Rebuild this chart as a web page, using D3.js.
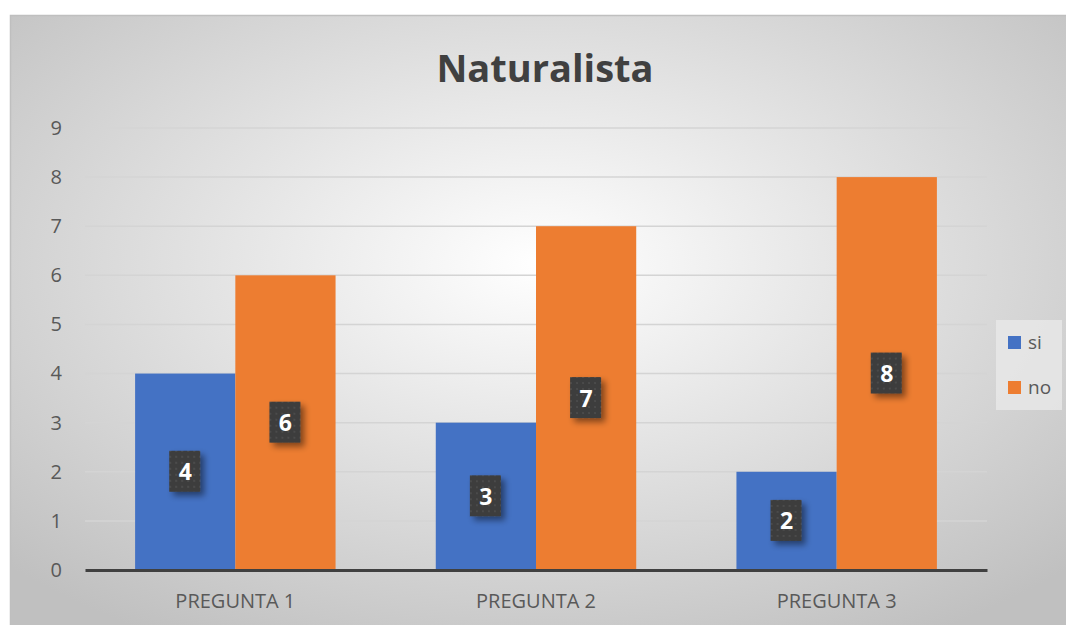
<!DOCTYPE html>
<html>
<head>
<meta charset="utf-8">
<script src="https://cdn.jsdelivr.net/npm/d3@7"></script>
<style>
  body { margin: 0; background: #fff; }
  svg { display: block; }
</style>
</head>
<body>
<svg id="chart" width="1066" height="625"></svg>
<script>
var categories = ["PREGUNTA 1", "PREGUNTA 2", "PREGUNTA 3"];
var seriesNames = ["si", "no"];
var siValues = [4, 3, 2];
var noValues = [6, 7, 8];
var yTicks = [0, 1, 2, 3, 4, 5, 6, 7, 8, 9];
var colors = ["#4472C4", "#ED7D31"];

var svg = d3.select("#chart");
var defs = svg.append("defs");

// background gradient like the office "radial" style
var grad = defs.append("radialGradient").attr("id", "bg")
    .attr("cx", "50%").attr("cy", "40%").attr("r", "70%");
grad.append("stop").attr("offset", "0%").attr("stop-color", "#ffffff");
grad.append("stop").attr("offset", "100%").attr("stop-color", "#c0c0c0");

var pat = defs.append("pattern").attr("id", "dots")
    .attr("width", 6).attr("height", 6).attr("patternUnits", "userSpaceOnUse");
pat.append("rect").attr("width", 6).attr("height", 6).attr("fill", "#3c3c3c");
pat.append("rect").attr("x", 2).attr("y", 2).attr("width", 2).attr("height", 2).attr("fill", "#4c4c4c");

var shadow = defs.append("filter").attr("id", "shadow")
    .attr("x", "-30%").attr("y", "-30%").attr("width", "180%").attr("height", "180%");
shadow.append("feDropShadow").attr("dx", 4).attr("dy", 4).attr("stdDeviation", 3)
    .attr("flood-color", "#000").attr("flood-opacity", 0.45);

svg.append("rect").attr("x", 10.5).attr("y", 15.5).attr("width", 1060).attr("height", 620)
    .attr("fill", "url(#bg)").attr("stroke", "#bfbfbf").attr("stroke-width", 1.5);

var plotLeft = 85, plotRight = 987, plotTop = 128, plotBottom = 570;

var x0 = d3.scaleBand().domain(categories).range([plotLeft, plotRight]).paddingInner(1 / 3).paddingOuter(1 / 6);
var x1 = d3.scaleBand().domain(seriesNames).range([0, x0.bandwidth()]);
var y = d3.scaleLinear().domain([0, 9]).range([plotBottom, plotTop]);

// title
svg.append("text").attr("x", 545).attr("y", 82).attr("text-anchor", "middle")
    .style("font-family", "'Open Sans', sans-serif").style("font-weight", "bold")
    .style("font-size", "38px").style("fill", "#404040").text("Naturalista");

// gridlines
svg.append("g").selectAll("line").data(yTicks.filter(function (d) { return d > 0; }))
    .enter().append("line")
    .attr("x1", plotLeft).attr("x2", plotRight)
    .attr("y1", function (d) { return y(d); }).attr("y2", function (d) { return y(d); })
    .attr("stroke", "#d4d4d4").attr("stroke-width", 1.5);

// y axis labels
var yAxis = d3.axisLeft(y).tickValues(yTicks).tickSize(0).tickPadding(0);
var yg = svg.append("g").attr("transform", "translate(62,0)").call(yAxis);
yg.select(".domain").remove();
yg.selectAll("text").style("font-family", "'Open Sans', sans-serif").style("font-size", "20px")
    .style("fill", "#595959");

var rows = categories.map(function (c, i) {
    return { cat: c, vals: [siValues[i], noValues[i]] };
});

var groups = svg.append("g").selectAll("g").data(rows).enter().append("g")
    .attr("transform", function (d) { return "translate(" + x0(d.cat) + ",0)"; });

groups.selectAll("rect").data(function (d) {
    return d.vals.map(function (v, j) { return { name: seriesNames[j], v: v, j: j }; });
}).enter().append("rect")
    .attr("x", function (d) { return x1(d.name); })
    .attr("y", function (d) { return y(d.v); })
    .attr("width", x1.bandwidth())
    .attr("height", function (d) { return y(0) - y(d.v); })
    .attr("fill", function (d) { return colors[d.j]; });

// x axis
var xAxis = d3.axisBottom(x0).tickSize(0).tickPadding(24);
var xg = svg.append("g").attr("transform", "translate(0," + plotBottom + ")").call(xAxis);
xg.select(".domain").attr("stroke", "#404040").attr("stroke-width", 3);
xg.selectAll("text").style("font-family", "'Open Sans', sans-serif").style("font-size", "20px")
    .style("fill", "#595959");

// data labels
var labels = groups.selectAll("g.lab").data(function (d) {
    return d.vals.map(function (v, j) { return { name: seriesNames[j], v: v }; });
}).enter().append("g").attr("class", "lab")
    .attr("transform", function (d) {
        return "translate(" + (x1(d.name) + x1.bandwidth() / 2) + "," + y(d.v / 2) + ")";
    });
labels.append("rect").attr("x", -16).attr("y", -21).attr("width", 31).attr("height", 41)
    .attr("fill", "url(#dots)").attr("filter", "url(#shadow)");
labels.append("text").attr("y", 8.5).attr("text-anchor", "middle")
    .style("font-family", "'Open Sans', sans-serif").style("font-weight", "bold")
    .style("font-size", "23px").style("fill", "#fff").text(function (d) { return d.v; });

// legend
var legend = svg.append("g");
legend.append("rect").attr("x", 996).attr("y", 320).attr("width", 66).attr("height", 90)
    .attr("fill", "#e8e8e8").attr("opacity", 0.8);
var li = legend.selectAll("g").data(seriesNames).enter().append("g")
    .attr("transform", function (d, i) { return "translate(1008," + (336 + i * 45) + ")"; });
li.append("rect").attr("width", 13).attr("height", 13).attr("fill", function (d, i) { return colors[i]; });
li.append("text").attr("x", 20).attr("y", 13)
    .style("font-family", "'Open Sans', sans-serif").style("font-size", "19px")
    .style("fill", "#595959").text(function (d) { return d; });
</script>
</body>
</html>
